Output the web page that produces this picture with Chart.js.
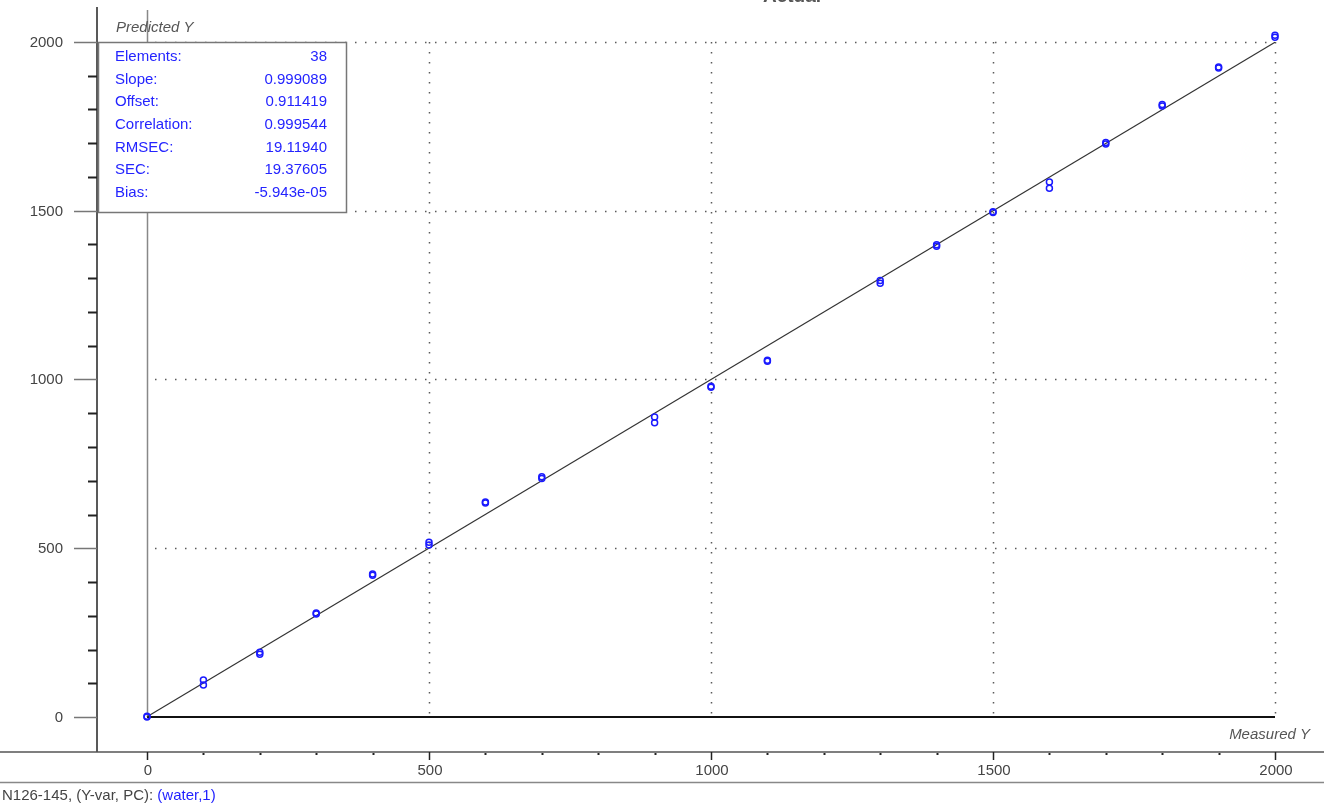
<!DOCTYPE html>
<html><head><meta charset="utf-8">
<script src="https://cdn.jsdelivr.net/npm/chart.js@4.4.0/dist/chart.umd.min.js"></script>
<style>html,body{margin:0;padding:0;background:#fff;}#wrap{width:1324px;height:808px;position:relative;}</style>
</head><body><div id="wrap"><canvas id="c" width="1324" height="808"></canvas></div>
<script>
const measured = [0,0,100,100,200,200,300,300,400,400,500,500,600,600,700,700,900,900,1000,1000,1100,1100,1300,1300,1400,1400,1500,1500,1600,1600,1700,1700,1800,1800,1900,1900,2000,2000];
const predicted = [0,2,110,95,192,186,308,305,424,420,518,510,637,634,712,707,889,872,980,977,1057,1054,1293,1285,1399,1395,1497,1495,1585,1567,1702,1698,1815,1810,1926,1923,2020,2014];
const tickValues = [0,500,1000,1500,2000];
const tickLabels = ['0','500','1000','1500','2000'];
const statNames = ['Elements:','Slope:','Offset:','Correlation:','RMSEC:','SEC:','Bias:'];
const statValues = ['38','0.999089','0.911419','0.999544','19.11940','19.37605','-5.943e-05'];
const slope = 0.999089, offset = 0.911419;
const fitX = [0,2000];

const pts = measured.map((m,i)=>({x:m,y:predicted[i]}));
const fitPts = fitX.map(x=>({x:x,y:slope*x+offset}));

const FONT = 'Arial, "Liberation Sans", sans-serif';

const deco = {
  id:'deco',
  beforeDatasetsDraw(chart){
    const ctx=chart.ctx, xs=chart.scales.x, ys=chart.scales.y;
    const X=v=>Math.round(xs.getPixelForValue(v)), Y=v=>Math.round(ys.getPixelForValue(v));
    ctx.save();
    // dotted grid
    ctx.strokeStyle='#5a5a5a'; ctx.lineWidth=1.5; ctx.setLineDash([1.5,8.5]);
    for(const v of [500,1000,1500,2000]){
      ctx.beginPath(); ctx.moveTo(X(v)+0.5,Y(2000)); ctx.lineTo(X(v)+0.5,Y(0)); ctx.stroke();
      ctx.beginPath(); ctx.moveTo(X(0)+8,Y(v)+0.5); ctx.lineTo(X(2000),Y(v)+0.5); ctx.stroke();
    }
    ctx.setLineDash([]);
    // zero lines
    ctx.strokeStyle='#888'; ctx.lineWidth=1.5;
    ctx.beginPath(); ctx.moveTo(X(0)+0.5,10); ctx.lineTo(X(0)+0.5,Y(0)); ctx.stroke();
    ctx.strokeStyle='#111'; ctx.lineWidth=2;
    ctx.beginPath(); ctx.moveTo(X(0),Y(0)); ctx.lineTo(X(2000),Y(0)); ctx.stroke();
    // axes
    const axX = chart.chartArea.left, axY = chart.chartArea.bottom;
    ctx.strokeStyle='#222'; ctx.lineWidth=1.5;
    ctx.beginPath(); ctx.moveTo(axX,7); ctx.lineTo(axX,axY); ctx.stroke();
    ctx.strokeStyle='#555'; ctx.lineWidth=1.5;
    ctx.beginPath(); ctx.moveTo(0,axY); ctx.lineTo(1324,axY); ctx.stroke();
    // y ticks
    for(let v=0; v<=2000; v+=100){
      const y=Y(v)+0.5;
      if(v%500===0){ ctx.strokeStyle='#777'; ctx.lineWidth=1.5; ctx.beginPath(); ctx.moveTo(axX-23,y); ctx.lineTo(axX,y); ctx.stroke(); }
      else { ctx.strokeStyle='#222'; ctx.lineWidth=2; ctx.beginPath(); ctx.moveTo(axX-9,y); ctx.lineTo(axX,y); ctx.stroke(); }
    }
    // x ticks
    for(let v=-100; v<=2000; v+=100){
      const x=X(v)+0.5;
      if(x<axX) continue;
      ctx.strokeStyle='#222';
      if(v%500===0){ ctx.lineWidth=1.5; ctx.beginPath(); ctx.moveTo(x,axY); ctx.lineTo(x,axY+8); ctx.stroke(); }
      else { ctx.fillStyle='#222'; ctx.fillRect(x-1,axY+1,2,2); }
    }
    ctx.fillStyle='#444'; ctx.font='15px '+FONT;
    ctx.textBaseline='middle';
    tickValues.forEach((v,i)=>{
      ctx.textAlign='right'; ctx.fillText(tickLabels[i],63,Y(v)+1);
      ctx.textAlign='center'; ctx.fillText(tickLabels[i],X(v)+1,771);
    });
    // separator & footer
    ctx.strokeStyle='#888'; ctx.lineWidth=1.5;
    ctx.beginPath(); ctx.moveTo(0,782.5); ctx.lineTo(1324,782.5); ctx.stroke();
    ctx.textAlign='left'; ctx.fillStyle='#444'; ctx.font='15px '+FONT;
    const f1='N126-145, (Y-var, PC): ';
    ctx.fillText(f1,2,796);
    ctx.fillStyle='#1f1fff';
    ctx.fillText('(water,1)',2+ctx.measureText(f1).width,796);
    // axis titles
    ctx.fillStyle='#555'; ctx.font='italic 15px '+FONT;
    ctx.textAlign='left'; ctx.fillText('Predicted Y',116,28);
    ctx.textAlign='right'; ctx.fillText('Measured Y',1310,735);
    // truncated title
    ctx.fillStyle='#555'; ctx.font='bold 19px '+FONT; ctx.textAlign='center'; ctx.textBaseline='alphabetic';
    ctx.fillText('Actual',792,2);
    // stats box
    ctx.fillStyle='#fff'; ctx.fillRect(98,42,249,170);
    ctx.strokeStyle='#777'; ctx.lineWidth=1.5; ctx.strokeRect(98.5,42.5,248,170);
    ctx.font='15px '+FONT; ctx.fillStyle='#2424ff'; ctx.textBaseline='middle';
    statNames.forEach((n,i)=>{
      const yy=57+i*22.6;
      ctx.textAlign='left'; ctx.fillText(n,115,yy);
      ctx.textAlign='right'; ctx.fillText(statValues[i],327,yy);
    });
    ctx.restore();
  }
};

new Chart(document.getElementById('c'),{
  type:'scatter',
  data:{datasets:[
    {type:'line',data:fitPts,borderColor:'#333',borderWidth:1.2,pointRadius:0,fill:false,order:2},
    {data:pts,borderColor:'#1a1aff',backgroundColor:'rgba(0,0,0,0)',pointRadius:3,pointBorderWidth:1.5,order:1}
  ]},
  options:{
    responsive:false,animation:false,
    layout:{autoPadding:false,padding:{left:97,right:0,top:0,bottom:56}},
    plugins:{legend:{display:false},tooltip:{enabled:false}},
    scales:{
      x:{type:'linear',display:false,min:-88.652,max:2086.88},
      y:{type:'linear',display:false,min:-103.7,max:2124.44}
    }
  },
  plugins:[deco]
});
</script></body></html>
